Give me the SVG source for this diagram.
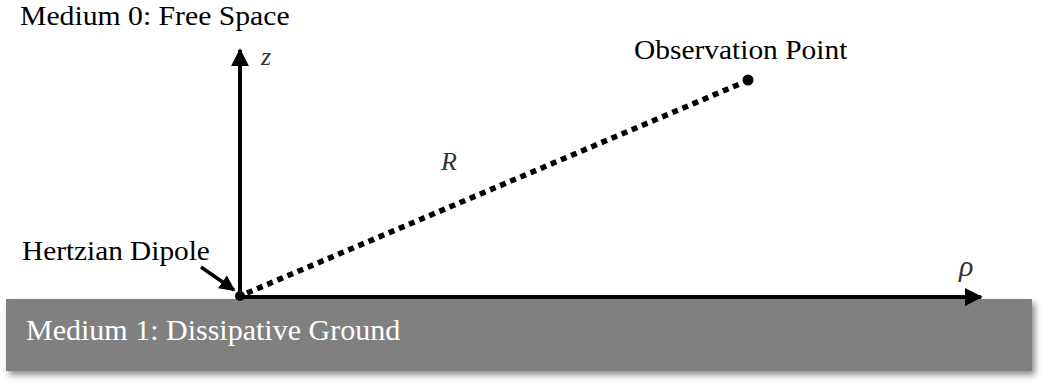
<svg xmlns="http://www.w3.org/2000/svg" width="1044" height="387" viewBox="0 0 1044 387">
<style>
.lbl{font-family:"Liberation Serif","Times New Roman",serif;font-size:27px;fill:#000}
.var{font-family:"Liberation Serif","Times New Roman",serif;font-style:italic;font-size:25px;fill:#333}
.axis{stroke:#000;stroke-width:4;fill:none}
</style>
<defs>
<filter id="sh" x="-5%" y="-20%" width="110%" height="140%">
<feDropShadow dx="3" dy="4" stdDeviation="3" flood-color="#000" flood-opacity="0.45"/>
</filter>
<marker id="ah" viewBox="0 0 10 10" refX="9" refY="5" markerWidth="4.5" markerHeight="4.5" orient="auto" markerUnits="strokeWidth">
<path d="M0,0 L10,5 L0,10 Z" fill="#000"/>
</marker>
<marker id="ahs" viewBox="0 0 10 10" refX="9" refY="5" markerWidth="4.5" markerHeight="4.5" orient="auto" markerUnits="strokeWidth">
<path d="M0,0 L10,5 L0,10 Z" fill="#000"/>
</marker>
</defs>
<g id="ground">
<rect x="6" y="299" width="1026" height="72" fill="#808080" filter="url(#sh)"/>
<text transform="translate(26,340)" class="lbl" style="fill:#fff;font-size:30px">Medium 1: Dissipative Ground</text>
</g>
<g id="free-space">
<text transform="translate(20,24.5) scale(1.1,1)" class="lbl">Medium 0: Free Space</text>
</g>
<g id="connectors">
<line class="axis" x1="240" y1="297" x2="240" y2="50" marker-end="url(#ah)"/>
<line class="axis" x1="240" y1="297" x2="981" y2="297" marker-end="url(#ah)"/>
<line x1="247" y1="293" x2="742" y2="83" stroke="#000" stroke-width="5.5" stroke-dasharray="6 5"/>
<line x1="201" y1="267" x2="234" y2="290" stroke="#000" stroke-width="3.5" marker-end="url(#ahs)"/>
</g>
<g id="dipole">
<circle cx="240" cy="296" r="5" fill="#000"/>
<text transform="translate(22,259.5) scale(1.085,1)" class="lbl">Hertzian Dipole</text>
</g>
<g id="observation">
<circle cx="748" cy="80" r="5.5" fill="#000"/>
<text transform="translate(634,59) scale(1.09,1)" class="lbl">Observation Point</text>
</g>
<text x="261" y="65" class="var" style="font-size:26px">z</text>
<text x="959" y="276" class="var" style="font-size:30px">ρ</text>
<text x="441" y="170" class="var" style="font-size:26px">R</text>
</svg>
